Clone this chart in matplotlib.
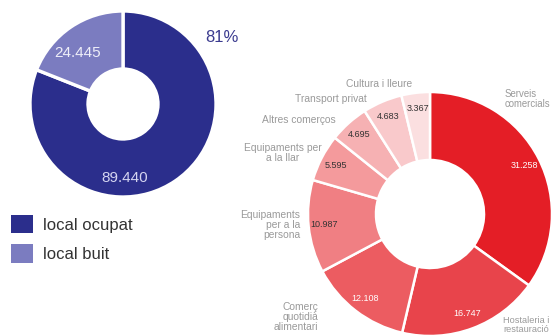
import matplotlib.pyplot as plt
from matplotlib.patches import Patch

plt.rcParams['font.family'] = ['Liberation Sans', 'DejaVu Sans']

W, H = 551, 335

status_labels = ['local ocupat', 'local buit']
status_values = [89440, 24445]
status_pct = [81, 19]   # the ring is drawn at the printed 81 %
status_colors = ['#2b2e8c', '#7b7cc0']

activity_labels = ['Serveis\ncomercials', 'Hostaleria i\nrestauració',
                   'Comerç\nquotidià\nalimentari', 'Equipaments\nper a la\npersona',
                   'Equipaments per\na la llar', 'Altres comerços',
                   'Transport privat', 'Cultura i lleure']
activity_values = [31258, 16747, 12108, 10987, 5595, 4695, 4683, 3367]
activity_colors = ['#e41e26', '#e8444b', '#ec5c61', '#f07f83',
                   '#f49a9c', '#f6b1b3', '#f9c9cb', '#fbdfe0']
value_text_colors = ['white', 'white', 'white', '#333333',
                     '#333333', '#333333', '#333333', '#333333']

# where the category names sit (pixel coords, y up), alignment, size
label_pos = [(505, 236, 'left', 6.9), (503, 10, 'left', 6.6),
             (318, 18, 'right', 7.4), (300, 110, 'right', 7.4),
             (322, 182, 'right', 7.4), (336, 215, 'right', 7.4),
             (367, 236, 'right', 7.4), (412, 251, 'right', 7.4)]


def fmt(v):
    return '{:,}'.format(int(round(v))).replace(',', '.')


def main():
    fig = plt.figure(figsize=(W / 100, H / 100), dpi=100)
    ax = fig.add_axes([0, 0, 1, 1])

    # left donut: occupied vs empty premises
    left_c = (123, H - 104)
    wl, _ = ax.pie(status_pct, center=left_c, radius=93, startangle=90,
                   counterclock=False, colors=status_colors,
                   wedgeprops=dict(width=58, edgecolor='white', linewidth=2.4))
    ax.text(125, H - 178, fmt(status_values[0]), ha='center', va='center',
            fontsize=11, color='#d4d4f0')
    ax.text(78, H - 53, fmt(status_values[1]), ha='center', va='center',
            fontsize=11, color='#eeeef8')
    ax.text(222, H - 37, '{}%'.format(status_pct[0]), ha='center',
            va='center', fontsize=12, color='#3b3b8f')

    handles = [Patch(facecolor=c, edgecolor='none') for c in status_colors]
    ax.legend(handles, status_labels, loc='upper left',
              bbox_to_anchor=(11 / W, 1 - 215 / H), frameon=False,
              fontsize=12, borderpad=0, borderaxespad=0,
              handlelength=1.3, handleheight=1.3, labelspacing=0.68,
              handletextpad=0.6, labelcolor='#333333')

    # right donut: occupied premises by activity
    total = sum(activity_values)
    right_c = (430, H - 214)
    wr, _, autotexts = ax.pie(
        activity_values, center=right_c, radius=122, startangle=90,
        counterclock=False, colors=activity_colors,
        wedgeprops=dict(width=68, edgecolor='white', linewidth=1.8),
        autopct=lambda p: fmt(p * total / 100), pctdistance=0.87,
        textprops=dict(fontsize=6.5))
    for t, c in zip(autotexts, value_text_colors):
        t.set_color(c)

    for lab, (x, y, ha, fs) in zip(activity_labels, label_pos):
        ax.text(x, y, lab, ha=ha, va='center', fontsize=fs, color='#9a9a9a',
                multialignment='center' if 'llar' in lab else ha,
                linespacing=1.05)

    ax.set_xlim(0, W)
    ax.set_ylim(0, H)
    ax.set_aspect('equal')
    ax.axis('off')

    fig.savefig('out.png', dpi=100)


if __name__ == '__main__':
    main()
